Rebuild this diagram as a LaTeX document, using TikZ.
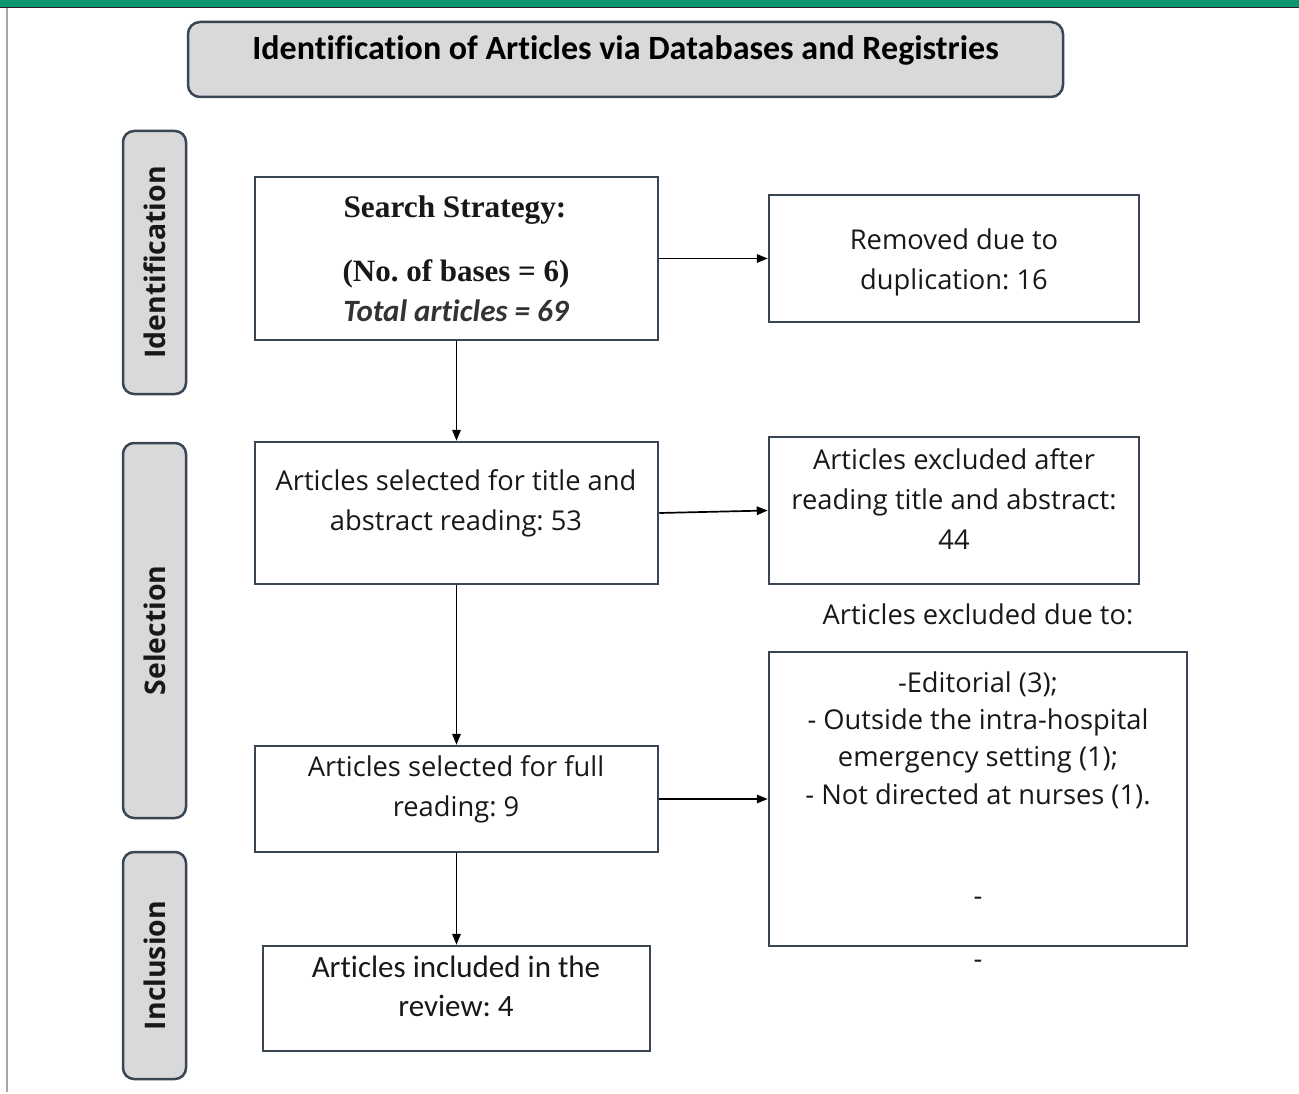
\documentclass[tikz,border=0pt]{standalone}
\usepackage{fontspec}
\setmainfont{Open Sans}
\newfontfamily\carl[Ligatures=NoCommon]{Carlito}
\newfontfamily\tms{Liberation Serif}
\usetikzlibrary{arrows.meta}
\definecolor{bargreen}{HTML}{0B9570}
\definecolor{edgecol}{HTML}{3B4654}
\definecolor{sidefill}{HTML}{D9D9D9}
\definecolor{txtcol}{HTML}{181818}
\frenchspacing
\begin{document}
\begin{tikzpicture}[x=1pt,y=-1pt,
  flowbox/.style={draw=edgecol,line width=2.5pt,fill=white,rectangle,inner sep=0pt},
  sidebox/.style={draw=edgecol,line width=2.5pt,fill=sidefill,rectangle,rounded corners=11pt,inner sep=0pt,
     minimum width=63pt,font=\fontsize{28.4}{32}\selectfont\bfseries,text=txtcol},
  bodytxt/.style={inner sep=0pt,anchor=base,align=center,text=txtcol,font=\fontsize{27.3}{40}\selectfont},
  arr/.style={-{Triangle[length=11pt,width=8.5pt]},line width=1.7pt,black}]
\useasboundingbox (0,0) rectangle (1299,1094);
\fill[white] (0,0) rectangle (1299,1094);
% top bar and left rule
\fill[bargreen] (0,0) rectangle (1299,7);
\fill[black!85] (0,7) rectangle (1299,8.5);
\fill[gray!70] (6,8) rectangle (8,1092);
% title
\node[draw=edgecol,line width=2.5pt,fill=sidefill,rounded corners=12pt,minimum width=875pt,minimum height=75pt,inner sep=0pt] (title) at (625.5,59.5) {};
\node[inner sep=0pt,anchor=base,text=black,font=\carl\fontsize{34}{38}\selectfont\bfseries] (titletxt) at (625.5,60) {Identification of Articles via Databases and Registries};
% side labels
\node[sidebox,minimum height=263pt] (sid) at (154.5,262.5) {\rotatebox{90}{Identification}};
\node[sidebox,minimum height=375pt] (ssel) at (154.5,630.5) {\rotatebox{90}{Selection}};
\node[sidebox,minimum height=227pt] (sinc) at (154.5,965.5) {\rotatebox{90}{Inclusion}};
% boxes
\node[flowbox,minimum width=403pt,minimum height=163pt] (b1) at (456.5,258.5) {};
\node[flowbox,minimum width=370pt,minimum height=127pt] (rem) at (954,258.5) {};
\node[flowbox,minimum width=403pt,minimum height=142pt] (b2) at (456.5,513) {};
\node[flowbox,minimum width=370pt,minimum height=147pt] (ex1) at (954,510.5) {};
\node[flowbox,minimum width=418pt,minimum height=294pt] (ex2) at (978,799) {};
\node[flowbox,minimum width=403pt,minimum height=106pt] (b3) at (456.5,799) {};
\node[flowbox,minimum width=387pt,minimum height=105pt] (b4) at (456.5,998.5) {};
% texts
\node[inner sep=0pt,anchor=base,text=txtcol,font=\tms\fontsize{31.3}{34}\selectfont\bfseries] (t1a) at (455,218) {Search Strategy:};
\node[inner sep=0pt,anchor=base,text=txtcol,font=\tms\fontsize{31}{34}\selectfont\bfseries] (t1b) at (456,281.5) {(No. of bases = 6)};
\node[inner sep=0pt,anchor=base,text=black!80,font=\carl\fontsize{31}{34}\selectfont\bfseries\itshape] (t1c) at (456,321) {Total articles = 69};
\node[bodytxt] (trem1) at (954,249.5) {Removed due to};
\node[bodytxt] (trem2) at (954,289.5) {duplication: 16};
\node[bodytxt] (t2a) at (456,490.5) {Articles selected for title and};
\node[bodytxt] (t2b) at (456,530.5) {abstract reading: 53};
\node[bodytxt] (tex1a) at (954,469.5) {Articles excluded after};
\node[bodytxt] (tex1b) at (954,509.5) {reading title and abstract:};
\node[bodytxt] (tex1c) at (954,549.5) {44};
\node[bodytxt] (tdue) at (978,624.5) {Articles excluded due to:};
\node[bodytxt] (tex2a) at (978,692) {-Editorial (3);};
\node[bodytxt] (tex2b) at (978,729.5) {- Outside the intra-hospital};
\node[bodytxt] (tex2c) at (978,766.5) {emergency setting (1);};
\node[bodytxt] (tex2d) at (978,804.5) {- Not directed at nurses (1).};
\node[bodytxt] (tex2e) at (978,905) {-};
\node[bodytxt] (tex2f) at (978,968.5) {-};
\node[bodytxt] (t3a) at (456,776.5) {Articles selected for full};
\node[bodytxt] (t3b) at (456,816.5) {reading: 9};
\node[bodytxt,font=\carl\fontsize{31}{40}\selectfont] (t4a) at (456,977) {Articles included in the};
\node[bodytxt,font=\carl\fontsize{31}{40}\selectfont] (t4b) at (456,1016.5) {review: 4};
% connectors
\draw[arr] (b1.south) -- (b2.north);
\draw[arr] (b1.east) -- (rem.west);
\draw[arr] (b2.east) -- (ex1.west);
\draw[arr] (b2.south) -- (b3.north);
\draw[arr] (b3.east) -- (ex2.west);
\draw[arr] (b3.south) -- (b4.north);
\end{tikzpicture}
\end{document}
